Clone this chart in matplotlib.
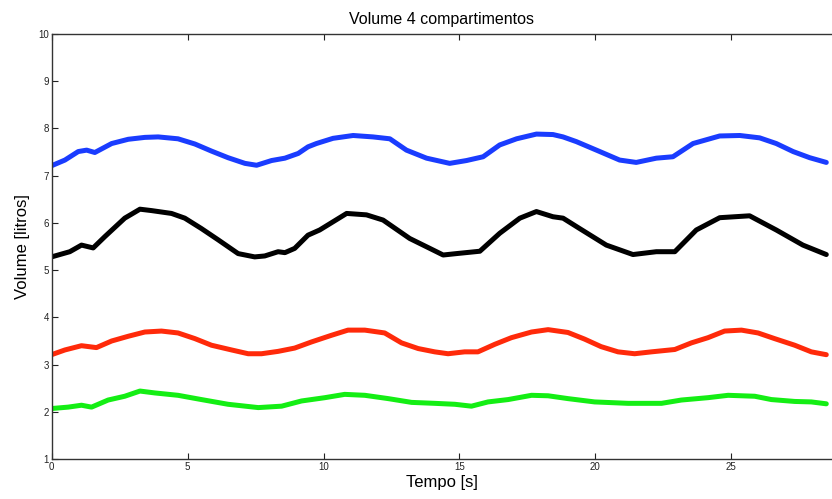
import matplotlib.pyplot as plt
import numpy as np

plt.rcParams['font.family'] = ['Liberation Sans', 'DejaVu Sans']

# values (time [s], volume [litros])
t_blue = [0, 0.49, 0.98, 1.29, 1.59, 2.21, 2.82, 3.43, 3.92, 4.65, 5.27, 5.88, 6.49, 7.11,
          7.54, 8.09, 8.58, 9.07, 9.43, 9.74, 10.35, 11.09, 11.82, 12.44, 13.05, 13.79,
          14.64, 15.26, 15.87, 16.48, 17.10, 17.83, 18.44, 18.81, 19.30, 20.16, 20.89,
          21.50, 22.24, 22.85, 23.59, 24.57, 25.31, 26.04, 26.65, 27.27, 27.88, 28.49]
v_blue = [7.21, 7.33, 7.51, 7.54, 7.49, 7.68, 7.77, 7.81, 7.82, 7.78, 7.67, 7.52, 7.38, 7.26,
          7.22, 7.32, 7.37, 7.47, 7.61, 7.68, 7.79, 7.85, 7.82, 7.78, 7.54, 7.37,
          7.26, 7.32, 7.40, 7.65, 7.78, 7.88, 7.87, 7.82, 7.72, 7.51, 7.33,
          7.28, 7.37, 7.40, 7.68, 7.84, 7.85, 7.80, 7.68, 7.51, 7.38, 7.28]

t_black = [0, 0.67, 1.10, 1.53, 1.96, 2.69, 3.25, 3.68, 4.41, 4.90, 5.51, 6.13, 6.86, 7.47,
           7.84, 8.33, 8.58, 8.94, 9.43, 9.86, 10.85, 11.58, 12.19, 13.17, 13.91, 14.40,
           14.89, 15.75, 16.48, 17.22, 17.83, 18.44, 18.81, 19.42, 20.40, 21.38, 22.24,
           22.92, 23.71, 24.57, 25.67, 26.65, 27.63, 28.49]
v_black = [5.28, 5.39, 5.53, 5.47, 5.71, 6.10, 6.29, 6.26, 6.20, 6.10, 5.88, 5.64, 5.35, 5.28,
           5.30, 5.39, 5.37, 5.46, 5.74, 5.85, 6.20, 6.17, 6.06, 5.67, 5.46, 5.32,
           5.35, 5.40, 5.78, 6.10, 6.24, 6.13, 6.10, 5.88, 5.53, 5.33, 5.39,
           5.39, 5.85, 6.11, 6.15, 5.85, 5.53, 5.33]

t_red = [0, 0.49, 1.10, 1.65, 2.21, 2.82, 3.43, 4.04, 4.65, 5.27, 5.88, 6.62, 7.23, 7.72,
         8.33, 8.94, 9.56, 10.29, 10.90, 11.52, 12.25, 12.87, 13.48, 14.09, 14.58, 15.19,
         15.68, 16.30, 16.91, 17.65, 18.26, 18.99, 19.60, 20.21, 20.83, 21.44, 22.06,
         22.92, 23.53, 24.14, 24.75, 25.37, 25.98, 26.59, 27.33, 27.94, 28.49]
v_red = [3.21, 3.31, 3.40, 3.36, 3.50, 3.60, 3.69, 3.71, 3.67, 3.55, 3.41, 3.31, 3.23, 3.23,
         3.28, 3.35, 3.48, 3.62, 3.73, 3.73, 3.67, 3.46, 3.34, 3.27, 3.23, 3.27,
         3.27, 3.43, 3.57, 3.69, 3.74, 3.68, 3.54, 3.38, 3.27, 3.23, 3.27,
         3.32, 3.46, 3.57, 3.71, 3.73, 3.67, 3.55, 3.41, 3.27, 3.21]

t_green = [0, 0.61, 1.10, 1.47, 2.08, 2.69, 3.25, 3.80, 4.65, 5.51, 6.49, 7.60, 8.46, 9.19,
           10.05, 10.78, 11.52, 12.38, 13.24, 14.09, 14.83, 15.44, 16.05, 16.79, 17.65,
           18.26, 18.99, 19.97, 21.20, 22.43, 23.16, 24.14, 24.88, 25.86, 26.47, 27.33,
           27.94, 28.49]
v_green = [2.07, 2.10, 2.14, 2.10, 2.25, 2.33, 2.44, 2.40, 2.35, 2.26, 2.16, 2.09, 2.12, 2.23,
           2.30, 2.37, 2.35, 2.28, 2.20, 2.18, 2.16, 2.12, 2.21, 2.26, 2.35,
           2.34, 2.28, 2.21, 2.18, 2.18, 2.25, 2.30, 2.35, 2.33, 2.26, 2.22,
           2.21, 2.17]

fig = plt.figure(figsize=(8.32, 4.99), dpi=100)
ax = fig.add_axes([0.062, 0.080, 0.938, 0.852])

lw = 3.6
style = dict(lw=lw, solid_joinstyle='round', solid_capstyle='round')
ax.plot(t_blue, v_blue, color='#1a3cff', **style)
ax.plot(t_black, v_black, color='black', **style)
ax.plot(t_red, v_red, color='#ff2a0a', **style)
ax.plot(t_green, v_green, color='#14ee14', **style)

ax.set_xlim(0, 28.7)
ax.set_ylim(1, 10)
ax.set_xticks([0, 5, 10, 15, 20, 25])
ax.set_yticks(range(1, 11))
ax.tick_params(direction='in', top=True, right=False, length=4, width=0.8,
               labelsize=7, pad=2, colors='#222222')
for s in ax.spines.values():
    s.set_color('#333333')
    s.set_linewidth(1.0)
ax.spines['right'].set_visible(False)  # falls off the edge in the original

ax.set_title('Volume 4 compartimentos', fontsize=11.5, pad=7)
ax.set_xlabel('Tempo [s]', fontsize=12, labelpad=2)
ax.set_ylabel('Volume [litros]', fontsize=12, labelpad=6)

fig.savefig('out.png', dpi=100)
